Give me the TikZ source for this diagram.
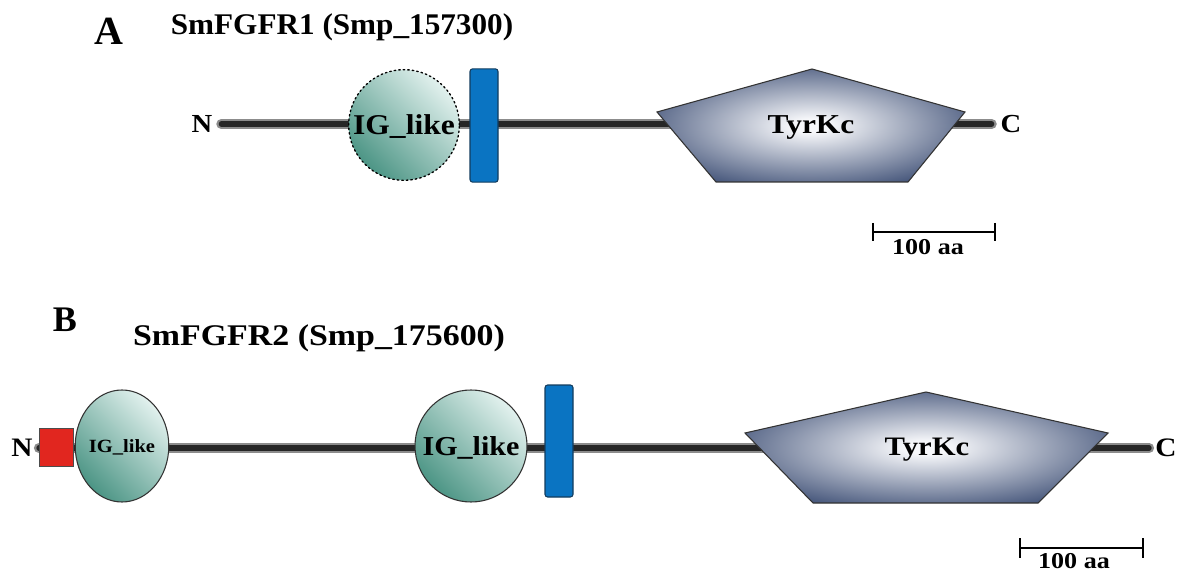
\documentclass[tikz,border=0pt]{standalone}
\usepackage{fontspec}
\setmainfont{Liberation Serif}
\usetikzlibrary{shapes}

\definecolor{igdark}{HTML}{4C9585}
\definecolor{iglight}{HTML}{E2F1EE}
\definecolor{tmblue}{HTML}{0A74C2}
\definecolor{tmedge}{HTML}{123C5E}
\definecolor{kinblue}{HTML}{34466E}
\definecolor{kinwhite}{HTML}{F6F7FA}
\definecolor{sigred}{HTML}{E1261F}
\definecolor{bbgray}{HTML}{8C8C8C}

\pgfdeclareradialshading{kinaseglow}{\pgfpoint{0bp}{0bp}}{color(0bp)=(kinwhite); color(3bp)=(kinwhite); color(32bp)=(kinblue); color(50bp)=(kinblue)}

\newcommand{\wide}[2][1.1]{\scalebox{#1}[1]{#2}}
\newcommand{\bsize}[1]{\fontsize{#1}{#1}\selectfont\bfseries}

\begin{document}
\begin{tikzpicture}[x=0.75pt, y=-0.75pt,
    lbl/.style={inner sep=1pt},
    halo/.style={line width=7.5pt, color=bbgray, line cap=round},
    core/.style={line width=3.8pt, color=black!85, line cap=round},
    igdomain/.style={draw=black!80, line width=0.8pt, top color=iglight, bottom color=igdark, shading angle=-45, text depth=0pt, inner sep=0pt},
    tmdomain/.style={rectangle, draw=tmedge, line width=0.8pt, fill=tmblue, rounded corners=2pt, minimum width=21pt, minimum height=85pt},
    tyrkc/.style={shading=kinaseglow, draw=black!80, line width=0.8pt},
    scalebar/.style={line width=2.2pt}]

            \useasboundingbox (0,0) rectangle (1184,573);

            \node[lbl, font=\bsize{30}, anchor=base] (labA) at (109,45) {A};
            \node[lbl, font=\bsize{22.5}, anchor=base] (titleA) at (342,35) {\wide[1.04]{SmFGFR1 (Smp\_157300)}};

            \node[lbl, font=\bsize{19.5}] (nA) at (202,124) {\wide{N}};
            \node[lbl, font=\bsize{19.5}] (cA) at (1011,124) {\wide{C}};
            \draw[halo, shorten <=5.5pt, shorten >=5.5pt] (nA) -- (cA);
            \draw[core, shorten <=5.5pt, shorten >=5.5pt] (nA) -- (cA);

            \node[igdomain, circle, dash pattern=on 1.2pt off 2.2pt, line cap=round, line width=1pt, draw=black,
                minimum size=83pt, font=\bsize{21.5}] (igA) at (404,125) {\wide{IG\_like}};
            \node[tmdomain] (tmA) at (484,125.5) {};

            \shadedraw[tyrkc] (657,112) -- (812,69)
            -- (965,112) -- (908,182)
            -- (716,182) -- cycle;
            \node[lbl, font=\bsize{20.5}, text depth=0pt] (tkA) at (811,125) {\wide[1.15]{TyrKc}};

            \draw[scalebar] (873,223) -- (873,241)
            (873,232) -- (995,232)
            (995,223) -- (995,241);
            \node[lbl, font=\bsize{17}, anchor=base] (barA) at (928,255) {\wide[1.15]{100 aa}};

            \node[lbl, font=\bsize{27}, anchor=base] (labB) at (65,331) {B};
            \node[lbl, font=\bsize{22.5}, anchor=base] (titleB) at (319,345) {\wide[1.13]{SmFGFR2 (Smp\_175600)}};

            \node[lbl, font=\bsize{20}] (nB) at (22,448) {\wide{N}};
            \node[lbl, font=\bsize{20}] (cB) at (1166,448) {\wide{C}};
            \draw[halo, shorten <=3.5pt, shorten >=3.5pt] (nB) -- (cB);
            \draw[core, shorten <=3.5pt, shorten >=3.5pt] (nB) -- (cB);

            \node[rectangle, draw=black!70, line width=0.8pt, fill=sigred,
                minimum width=25pt, minimum height=28pt] (sigB) at (56.5,447.5) {};
            \node[igdomain, ellipse, minimum width=52.5pt, minimum height=84pt,
                font=\bsize{14}] (igB1) at (122,446) {\wide{IG\_like}};
            \node[igdomain, circle, minimum size=84pt, font=\bsize{20.5}] (igB2) at (471,446) {\wide{IG\_like}};
            \node[tmdomain, minimum height=84pt] (tmB) at (559,441) {};

            \shadedraw[tyrkc] (745,433) -- (926,392)
            -- (1108,433) -- (1038,503)
            -- (813,503) -- cycle;
            \node[lbl, font=\bsize{20}, text depth=0pt] (tkB) at (927,447) {\wide[1.15]{TyrKc}};

            \draw[scalebar] (1020,538) -- (1020,558)
            (1020,548) -- (1143,548)
            (1143,538) -- (1143,558);
            \node[inner sep=0pt, font=\bsize{17}, anchor=base] (barB) at (1074,568) {\wide[1.15]{100 aa}};
        \end{tikzpicture}
\end{document}
